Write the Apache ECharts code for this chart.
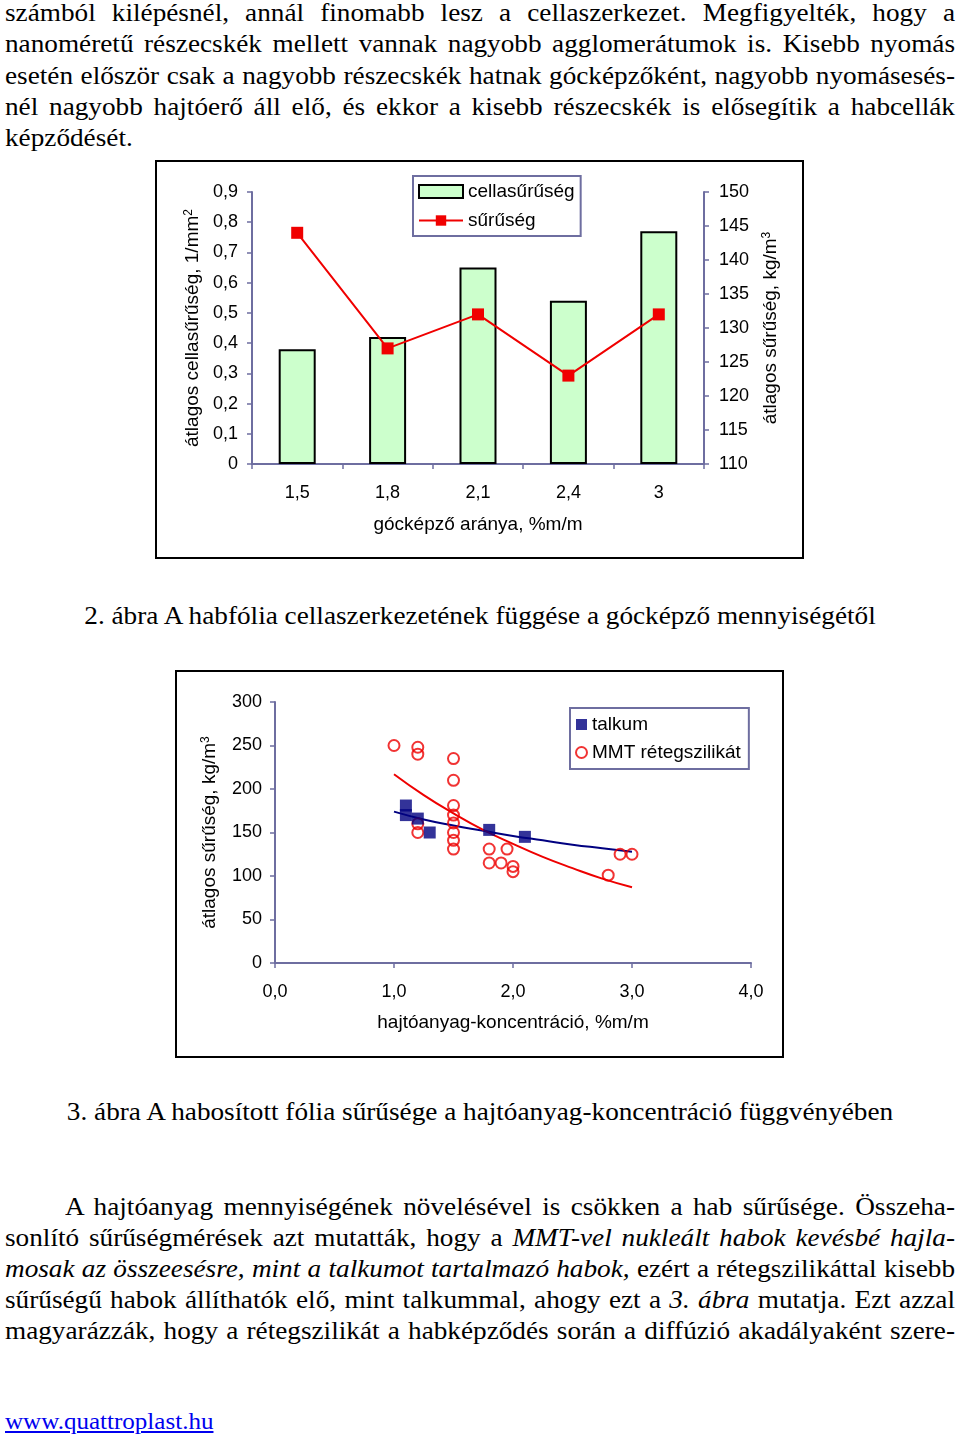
<!DOCTYPE html>
<html><head><meta charset="utf-8">
<script src="https://cdn.jsdelivr.net/npm/echarts@6/dist/echarts.min.js"></script>
<style>
html,body{margin:0;padding:0;background:#fff;width:960px;height:1444px;overflow:hidden;position:relative;}
.ln{position:absolute;font-family:'Liberation Serif','Times New Roman',serif;font-size:25px;line-height:31px;height:31px;color:#000;white-space:nowrap;transform-origin:0 0;}
.j{text-align:justify;text-align-last:justify;white-space:normal;}
.cap{left:0;width:960px;text-align:center;transform-origin:480px 0;}
#c1{position:absolute;left:155px;top:160px;width:650px;height:400px;}
#c2{position:absolute;left:175px;top:670px;width:610px;height:388px;}
a{color:#0000ee;}
</style></head><body>
<div id="text"></div>
<div id="c1"></div>
<div id="c2"></div>
<script>
// ---------- data ----------
const topLines = [
 'számból kilépésnél, annál finomabb lesz a cellaszerkezet. Megfigyelték, hogy a',
 'nanoméretű részecskék mellett vannak nagyobb agglomerátumok is. Kisebb nyomás',
 'esetén először csak a nagyobb részecskék hatnak gócképzőként, nagyobb nyomásesés-',
 'nél nagyobb hajtóerő áll elő, és ekkor a kisebb részecskék is elősegítik a habcellák',
 'képződését.'
];
const caption2 = '2. ábra A habfólia cellaszerkezetének függése a gócképző mennyiségétől';
const caption3 = '3. ábra A habosított fólia sűrűsége a hajtóanyag-koncentráció függvényében';
const bottomLines = [
 'A hajtóanyag mennyiségének növelésével is csökken a hab sűrűsége. Összeha-',
 'sonlító sűrűségmérések azt mutatták, hogy a <i>MMT-vel nukleált habok kevésbé hajla-</i>',
 '<i>mosak az összeesésre, mint a talkumot tartalmazó habok,</i> ezért a rétegszilikáttal kisebb',
 'sűrűségű habok állíthatók elő, mint talkummal, ahogy ezt a <i>3. ábra</i> mutatja. Ezt azzal',
 'magyarázzák, hogy a rétegszilikát a habképződés során a diffúzió akadályaként szere-'
];
const footer = 'www.quattroplast.hu';

const categories1 = ['1,5', '1,8', '2,1', '2,4', '3'];
const cellDensity = [0.38, 0.42, 0.65, 0.54, 0.77];
const foamDensity = [144, 127, 132, 123, 132];

const talkum = [[1.1, 181], [1.1, 170], [1.2, 166], [1.3, 150], [1.8, 153], [2.1, 145]];
const mmt = [[1.0, 250], [1.2, 248], [1.2, 240], [1.2, 160], [1.2, 150],
  [1.5, 235], [1.5, 210], [1.5, 181], [1.5, 170], [1.5, 161], [1.5, 150], [1.5, 141], [1.5, 131],
  [1.8, 131], [1.8, 115], [1.9, 115], [1.95, 131], [2.0, 111], [2.0, 105],
  [2.8, 101], [2.9, 125], [3.0, 125]];
const talkumTrend = [[1.0, 174], [1.25, 165], [1.5, 158], [1.75, 152], [2.0, 146], [2.25, 141], [2.5, 136], [2.75, 132], [3.0, 128]];
const mmtTrend = [[1.0, 217], [1.25, 193], [1.5, 172], [1.75, 153], [2.0, 137], [2.25, 122], [2.5, 109], [2.75, 97], [3.0, 87]];

// ---------- text ----------
const S = 1.089;
const T = document.getElementById('text');
function addLine(html, left, top, width, cls, size) {
  const d = document.createElement('div');
  d.className = 'ln ' + (cls || '');
  d.innerHTML = html;
  d.style.top = top + 'px';
  if (cls && cls.indexOf('cap') >= 0) {
    d.style.transform = 'scaleX(' + S + ')';
  } else {
    d.style.left = left + 'px';
    if (width) d.style.width = (width / S) + 'px';
    d.style.transform = 'scaleX(' + S + ')';
  }
  if (size) d.style.fontSize = size + 'px';
  T.appendChild(d);
  return d;
}
topLines.forEach((t, i) => addLine(t, 5, -3 + i * 31.3, i < topLines.length - 1 ? 950 : 0, i < topLines.length - 1 ? 'j' : ''));
addLine(caption2, 0, 600, 0, 'cap');
addLine(caption3, 0, 1096, 0, 'cap');
bottomLines.forEach((t, i) => addLine(t, i === 0 ? 65 : 5, 1191 + i * 31, i === 0 ? 890 : 950, 'j'));
addLine('<a href="#">' + footer + '</a>', 5, 1406, 0, '', 23);

// ---------- charts ----------
const FONT = "'Liberation Sans', Arial, sans-serif";
const AX = '#6e6ea0';
const NAME_SIZE = 19;
const dec1 = v => (Math.round(v * 10) / 10).toFixed(1).replace('.', ',');
const axisCommon = {
  axisLine: {show: true, lineStyle: {color: AX, width: 2}},
  axisTick: {show: true, length: 5, lineStyle: {color: AX, width: 1.5}},
  splitLine: {show: false},
  axisLabel: {color: '#000', fontSize: 18, fontFamily: FONT},
  nameTextStyle: {color: '#000', fontSize: NAME_SIZE, fontFamily: FONT,
    rich: {a: {fontSize: NAME_SIZE, fontFamily: FONT, color: '#000'}, s: {fontSize: 12, fontFamily: FONT, color: '#000', verticalAlign: 'top'}}}
};
function ax(extra) { return Object.assign({}, JSON.parse(JSON.stringify(axisCommon)), extra); }
const yLab = {color: '#000', fontSize: 18, fontFamily: FONT, padding: [4, 0, 0, 0]};

const c1 = echarts.init(document.getElementById('c1'), null, {renderer: 'canvas'});
c1.setOption({
  animation: false,
  textStyle: {fontFamily: FONT},
  graphic: [{type: 'rect', shape: {x: 1, y: 1, width: 647, height: 397}, style: {fill: 'none', stroke: '#000', lineWidth: 2}, z: 100}],
  grid: {left: 97, right: 101, top: 32, height: 272, outerBoundsMode: 'none'},
  legend: {
    orient: 'vertical', left: 258, top: 16, padding: [6, 6, 6, 5], itemGap: 10,
    itemWidth: 44, itemHeight: 13,
    borderColor: AX, borderWidth: 2, backgroundColor: '#fff',
    textStyle: {fontSize: NAME_SIZE, fontFamily: FONT, color: '#000'},
    data: [{name: 'cellasűrűség', icon: 'rect'}, {name: 'sűrűség'}]
  },
  xAxis: ax({
    type: 'category', data: categories1, boundaryGap: true,
    axisTick: {show: true, length: 5, alignWithLabel: false, lineStyle: {color: AX, width: 1.5}},
    axisLabel: {color: '#000', fontSize: 18, fontFamily: FONT, margin: 20},
    name: 'gócképző aránya, %m/m', nameLocation: 'middle', nameGap: 51
  }),
  yAxis: [
    ax({type: 'value', min: 0, max: 0.9, interval: 0.1, position: 'left',
      axisLabel: Object.assign({}, yLab, {margin: 14, formatter: v => v === 0 ? '0' : dec1(v)}),
      name: '{a|átlagos cellasűrűség, 1/mm}{s|2}', nameLocation: 'middle', nameRotate: 90, nameGap: 47}),
    ax({type: 'value', min: 110, max: 150, interval: 5, position: 'right',
      axisLabel: Object.assign({}, yLab, {margin: 15}),
      name: '{a|átlagos sűrűség, kg/m}{s|3}', nameLocation: 'middle', nameRotate: 90, nameGap: 57})
  ],
  series: [
    {name: 'cellasűrűség', type: 'bar', data: cellDensity, barWidth: 37,
      itemStyle: {color: '#ccffcc', borderColor: '#000', borderWidth: 2}},
    {name: 'sűrűség', type: 'line', yAxisIndex: 1, data: foamDensity,
      symbol: 'rect', symbolSize: 12,
      lineStyle: {color: '#f00000', width: 2}, itemStyle: {color: '#f00000'}}
  ]
});

const c2 = echarts.init(document.getElementById('c2'), null, {renderer: 'canvas'});
c2.setOption({
  animation: false,
  textStyle: {fontFamily: FONT},
  graphic: [{type: 'rect', shape: {x: 1, y: 1, width: 607, height: 386}, style: {fill: 'none', stroke: '#000', lineWidth: 2}, z: 100}],
  grid: {left: 100, right: 34, top: 32, height: 261, outerBoundsMode: 'none'},
  legend: {
    orient: 'vertical', left: 395, top: 38, padding: [7, 8, 7, 5], itemGap: 9,
    itemWidth: 11, itemHeight: 11,
    borderColor: AX, borderWidth: 2, backgroundColor: '#fff',
    textStyle: {fontSize: NAME_SIZE, fontFamily: FONT, color: '#000'},
    data: [{name: 'talkum', icon: 'rect'}, {name: 'MMT rétegszilikát', icon: 'circle'}]
  },
  xAxis: ax({type: 'value', min: 0, max: 4, interval: 1,
    axisLabel: {color: '#000', fontSize: 18, fontFamily: FONT, margin: 20, formatter: v => dec1(v)},
    name: 'hajtóanyag-koncentráció, %m/m', nameLocation: 'middle', nameGap: 50}),
  yAxis: ax({type: 'value', min: 0, max: 300, interval: 50,
    axisLabel: Object.assign({}, yLab, {margin: 13}),
    name: '{a|átlagos sűrűség, kg/m}{s|3}', nameLocation: 'middle', nameRotate: 90, nameGap: 56}),
  series: [
    {name: 'talkum trend', type: 'line', data: talkumTrend, smooth: true, symbol: 'none',
      lineStyle: {color: '#000080', width: 2}, z: 1},
    {name: 'MMT trend', type: 'line', data: mmtTrend, smooth: true, symbol: 'none',
      lineStyle: {color: '#ee0000', width: 2}, z: 1},
    {name: 'talkum', type: 'scatter', data: talkum, symbol: 'rect', symbolSize: 12,
      itemStyle: {color: '#000080'}, z: 3},
    {name: 'MMT rétegszilikát', type: 'scatter', data: mmt, symbol: 'circle', symbolSize: 11,
      itemStyle: {color: 'rgba(255,255,255,0)', borderColor: '#ee0000', borderWidth: 2}, z: 2}
  ]
});
</script>
</body></html>
